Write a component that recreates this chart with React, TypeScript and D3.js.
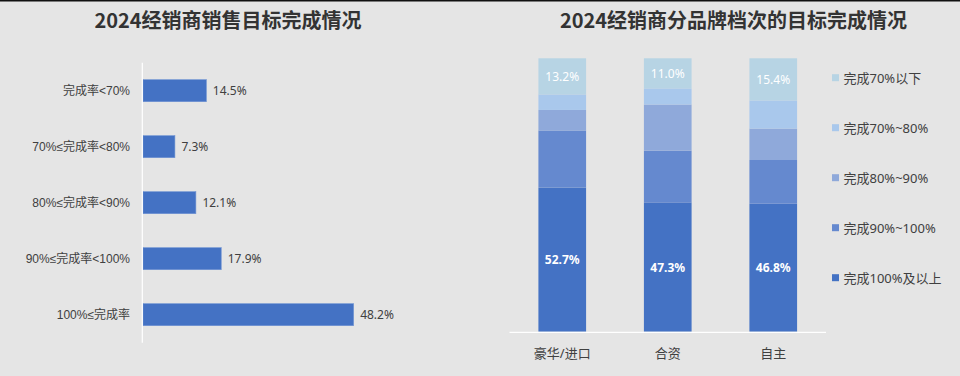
import React from "react";
import * as d3 from "d3";

const leftCategories = ["完成率<70%", "70%≤完成率<80%", "80%≤完成率<90%", "90%≤完成率<100%", "100%≤完成率"];
const leftValues = [14.5, 7.3, 12.1, 17.9, 48.2];

const brands = ["豪华/进口", "合资", "自主"];
const seriesNames = ["完成100%及以上", "完成90%~100%", "完成80%~90%", "完成70%~80%", "完成70%以下"];
const s100Plus = [52.7, 47.3, 46.8];
const s90to100 = [20.9, 18.9, 16.0];
const s80to90 = [7.5, 16.9, 11.5];
const s70to80 = [5.7, 5.9, 10.3];
const sBelow70 = [13.2, 11.0, 15.4];
const seriesColors = ["#4472c4", "#6589cf", "#8fa9da", "#a9c8ec", "#b7d4e4"];

const FONT = "'Noto Sans', 'Noto Sans CJK SC', sans-serif";
const LABEL_FONT = "'Liberation Sans', 'Noto Sans CJK SC', sans-serif";
const TITLE_FONT = "'Noto Sans CJK SC', 'Noto Sans', sans-serif";
const TEXT = "#404040";

export default function App() {
  const xL = d3.scaleLinear().domain([0, 50]).range([143, 361.5]);
  const yL = d3.scaleBand<string>().domain(leftCategories).range([62.7, 342.7]).paddingInner(0.607).paddingOuter(0.3035);

  const xR = d3.scaleBand<string>().domain(brands).range([509.5, 826]).paddingInner(0.548).paddingOuter(0.274);
  const yR = d3.scaleLinear().domain([0, 100]).range([331.7, 58.3]);

  const seriesData = [s100Plus, s90to100, s80to90, s70to80, sBelow70];
  const table = brands.map((b, i) => {
    const row: any = { brand: b };
    seriesNames.forEach((n, k) => (row[n] = seriesData[k][i]));
    return row;
  });
  const stacked = d3.stack().keys(seriesNames)(table);

  const legendOrder = [...seriesNames].reverse();

  return (
    <svg width={960} height={376} style={{ position: "absolute", left: 0, top: 0, fontFamily: FONT }}>
      <rect x={0} y={0} width={960} height={376} fill="#e5e5e5" />
      <rect x={0} y={0} width={960} height={1.5} fill="#111" />

      <text x={228} y={28} textAnchor="middle" fontSize={20} fontWeight="bold" fill="#333" fontFamily={TITLE_FONT}>2024经销商销售目标完成情况</text>
      {leftCategories.map((c, i) => (
        <g key={c}>
          <rect x={xL(0)} y={yL(c)!} width={xL(leftValues[i]) - xL(0)} height={yL.bandwidth()} fill="#4472c4" stroke="#6f93d3" strokeWidth={0.6} />
          <text x={130} y={yL(c)! + yL.bandwidth() / 2} textAnchor="end" dominantBaseline="central" fontSize={12} fill={TEXT} fontFamily={LABEL_FONT}>{c}</text>
          <text x={xL(leftValues[i]) + 6.5} y={yL(c)! + yL.bandwidth() / 2} dominantBaseline="central" fontSize={12} fill={TEXT}>{leftValues[i].toFixed(1)}%</text>
        </g>
      ))}
      <line x1={142.3} x2={142.3} y1={62.7} y2={342.7} stroke="#ffffff" strokeWidth={1.2} />

      <text x={733.5} y={28} textAnchor="middle" fontSize={20} fontWeight="bold" fill="#333" fontFamily={TITLE_FONT}>2024经销商分品牌档次的目标完成情况</text>
      {stacked.map((layer, k) => (
        <g key={layer.key}>
          {layer.map((d, i) => (
            <rect key={i} x={xR(brands[i])!} y={yR(d[1])} width={xR.bandwidth()} height={yR(d[0]) - yR(d[1])} fill={seriesColors[k]} />
          ))}
        </g>
      ))}
      {stacked[0].map((d, i) => (
        <text key={"b" + i} x={xR(brands[i])! + xR.bandwidth() / 2} y={(yR(d[0]) + yR(d[1])) / 2} textAnchor="middle" dominantBaseline="central" fontSize={12} fontWeight="bold" fill="#ffffff">{s100Plus[i].toFixed(1)}%</text>
      ))}
      {stacked[4].map((d, i) => (
        <text key={"t" + i} x={xR(brands[i])! + xR.bandwidth() / 2} y={(yR(d[0]) + yR(d[1])) / 2} textAnchor="middle" dominantBaseline="central" fontSize={12} fill="#ffffff">{sBelow70[i].toFixed(1)}%</text>
      ))}
      <line x1={509.5} x2={826} y1={332.3} y2={332.3} stroke="#ffffff" strokeWidth={1.2} />
      {brands.map((b) => (
        <text key={b} x={xR(b)! + xR.bandwidth() / 2} y={353} textAnchor="middle" dominantBaseline="central" fontSize={13} fill={TEXT}>{b}</text>
      ))}

      {legendOrder.map((n, i) => {
        const k = seriesNames.indexOf(n);
        const cy = 77.7 + i * 50;
        return (
          <g key={n}>
            <rect x={832} y={cy - 3.5} width={7} height={7} fill={seriesColors[k]} />
            <text x={843.5} y={cy} dominantBaseline="central" fontSize={13} fill={TEXT}>{n}</text>
          </g>
        );
      })}
    </svg>
  );
}
